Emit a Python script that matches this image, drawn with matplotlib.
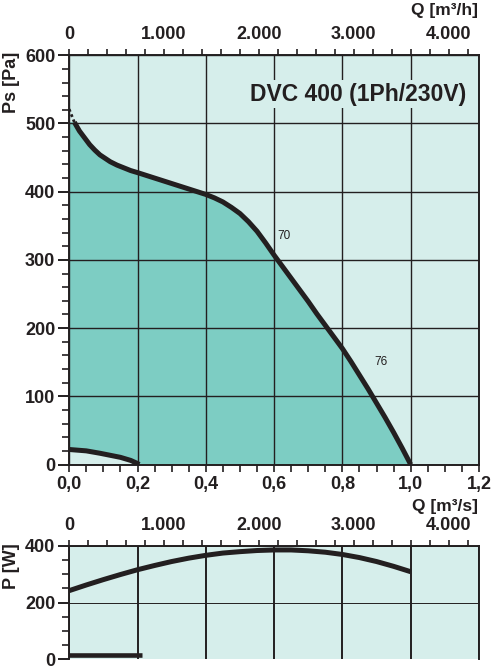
import matplotlib
matplotlib.use("Agg")
import matplotlib.pyplot as plt
from matplotlib.ticker import MultipleLocator, FixedLocator
import numpy as np

plt.rcParams['font.family'] = ['Liberation Sans', 'DejaVu Sans']

# ---------------- data ----------------
# pressure curve Ps [Pa] vs Q [m3/s]
q_ps = [0.015, 0.03, 0.045, 0.06, 0.075, 0.09, 0.105, 0.12, 0.14, 0.16, 0.18,
        0.2, 0.225, 0.25, 0.275, 0.3, 0.325, 0.35, 0.375, 0.4, 0.425, 0.45,
        0.475, 0.5, 0.525, 0.55, 0.575, 0.6, 0.625, 0.65, 0.675, 0.7, 0.725,
        0.75, 0.775, 0.8, 0.825, 0.85, 0.875, 0.9, 0.925, 0.95, 0.975, 1.0]
ps = [502, 489, 479, 469, 461, 454, 449, 444, 439, 435, 431,
      428, 424, 420, 416, 412, 408, 404, 400, 396, 391, 385,
      377, 368, 356, 342, 325, 307, 290, 273, 256, 239, 221,
      204, 187, 170, 151, 131, 111, 90, 69, 47, 24, 0]
# dotted start of the pressure curve
q_ps_dot = [0.0, 0.015]
ps_dot = [521, 502]
# lower (stall) curve
q_low = [0.0, 0.05, 0.09, 0.12, 0.15, 0.18, 0.2, 0.205]
p_low = [22, 20, 16.5, 13.5, 10.5, 6, 1.5, 0]
# power curve P [W]
q_pw = [0.0, 0.05, 0.1, 0.15, 0.2, 0.25, 0.3, 0.35, 0.4, 0.45, 0.5, 0.55,
        0.6, 0.65, 0.7, 0.75, 0.8, 0.85, 0.9, 0.95, 1.0]
pw = [242, 262, 281, 299, 316, 331, 345, 357, 367, 375, 380, 384,
      386, 386, 383, 378, 370, 359, 345, 328, 309]
q_pw_low = [0.0, 0.212]
pw_low = [13, 13]

# labels on curve
curve_labels = ["70", "76"]
curve_label_q = [0.63, 0.914]
curve_label_p = [335, 151]

x_ticks = [0.0, 0.2, 0.4, 0.6, 0.8, 1.0, 1.2]
x_ticklabels = ["0,0", "0,2", "0,4", "0,6", "0,8", "1,0", "1,2"]
h_ticks = [0, 1000, 2000, 3000, 4000]
h_ticklabels = ["0", "1.000", "2.000", "3.000", "4.000"]
ps_ticks = [0, 100, 200, 300, 400, 500, 600]
pw_ticks = [0, 200, 400]

title = "DVC 400 (1Ph/230V)"

# ---------------- style ----------------
BG = "#d6eeeb"
TEAL = "#7dcdc3"
INK = "#231f20"
W, H = 492, 670

fig = plt.figure(figsize=(W / 100, H / 100), dpi=100)
fig.patch.set_facecolor("white")

def px_axes(x0, y0, x1, y1):
    return [x0 / W, 1 - y1 / H, (x1 - x0) / W, (y1 - y0) / H]

ax = fig.add_axes(px_axes(69.2, 55.3, 479.0, 464.5))
ax2 = fig.add_axes(px_axes(69.2, 546.0, 479.0, 659.0))

to_h = (lambda q: np.asarray(q) * 3600.0, lambda h: np.asarray(h) / 3600.0)

# ---- top chart ----
ax.set_facecolor(BG)
ax.set_xlim(0, 1.2)
ax.set_ylim(0, 600)
poly_q = [q_ps_dot[0]] + list(q_ps) + list(q_low[::-1])
poly_p = [ps[0]] + list(ps) + list(p_low[::-1])
ax.fill(poly_q, poly_p, color=TEAL, lw=0, zorder=1)
ax.set_axisbelow(False)
ax.xaxis.set_major_locator(FixedLocator(x_ticks))
ax.xaxis.set_minor_locator(MultipleLocator(0.05))
ax.yaxis.set_major_locator(FixedLocator(ps_ticks))
ax.yaxis.set_minor_locator(MultipleLocator(20))
ax.set_xticklabels(x_ticklabels)
ax.grid(True, which="major", color=INK, lw=1.0, zorder=2)
ax.plot(q_ps, ps, color=INK, lw=3.6, solid_capstyle="butt",
        solid_joinstyle="round", zorder=3)
ax.plot(q_ps_dot, ps_dot, color=INK, lw=2.0, ls=(0, (1, 1)), zorder=3)
ax.plot(q_low, p_low, color=INK, lw=3.6, solid_capstyle="butt",
        solid_joinstyle="round", zorder=3)
for t, qx, py in zip(curve_labels, curve_label_q, curve_label_p):
    ax.text(qx, py, t, fontsize=8.5, color=INK, ha="center", va="center", zorder=4)
ax.text(0.847, 543, title, fontsize=16.5, fontweight="bold", color=INK,
        ha="center", va="center", zorder=5,
        bbox=dict(boxstyle="square,pad=0.12", fc=BG, ec="none"))

ax.tick_params(axis="x", which="both", direction="out", length=5, width=1.2,
               color=INK, labelsize=13, pad=3, top=False)
ax.tick_params(axis="y", which="major", direction="out", length=8, width=1.4,
               color=INK, labelsize=13, pad=2)
ax.tick_params(axis="y", which="minor", direction="out", length=5, width=1.2, color=INK)
for lab in ax.get_xticklabels() + ax.get_yticklabels():
    lab.set_fontweight("bold")
    lab.set_color(INK)
for s in ax.spines.values():
    s.set_color(INK)
    s.set_linewidth(1.4)

sec = ax.secondary_xaxis("top", functions=to_h)
sec.xaxis.set_major_locator(FixedLocator(h_ticks))
sec.xaxis.set_minor_locator(MultipleLocator(200))
sec.set_xticklabels(h_ticklabels)
sec.tick_params(axis="x", which="both", direction="out", length=4.5, width=1.2,
                color=INK, labelsize=13, pad=4)
for lab in sec.get_xticklabels():
    lab.set_fontweight("bold")
    lab.set_color(INK)
sec.spines["top"].set_visible(False)

# ---- bottom chart ----
ax2.set_facecolor(BG)
ax2.set_xlim(0, 1.2)
ax2.set_ylim(0, 400)
ax2.set_axisbelow(False)
ax2.xaxis.set_major_locator(FixedLocator(x_ticks))
ax2.yaxis.set_major_locator(FixedLocator(pw_ticks))
ax2.yaxis.set_minor_locator(MultipleLocator(50))
ax2.xaxis.grid(True, which="major", color=INK, lw=1.4, zorder=2)
ax2.yaxis.grid(True, which="major", color=INK, lw=0.7, zorder=2)
ax2.plot(q_pw, pw, color=INK, lw=3.6, solid_capstyle="butt",
         solid_joinstyle="round", zorder=3)
ax2.plot(q_pw_low, pw_low, color=INK, lw=3.3, solid_capstyle="butt", zorder=3)
ax2.tick_params(axis="x", which="both", bottom=False, top=False, labelbottom=False)
ax2.tick_params(axis="y", which="major", direction="out", length=8, width=1.4,
                color=INK, labelsize=13, pad=2)
ax2.tick_params(axis="y", which="minor", direction="out", length=5, width=1.2, color=INK)
for lab in ax2.get_yticklabels():
    lab.set_fontweight("bold")
    lab.set_color(INK)
for k, s in ax2.spines.items():
    s.set_color(INK)
    s.set_linewidth(1.4)
ax2.spines["bottom"].set_visible(False)

sec2 = ax2.secondary_xaxis("top", functions=to_h)
sec2.xaxis.set_major_locator(FixedLocator(h_ticks))
sec2.xaxis.set_minor_locator(MultipleLocator(200))
sec2.set_xticklabels(h_ticklabels)
sec2.tick_params(axis="x", which="both", direction="out", length=4.5, width=1.2,
                 color=INK, labelsize=13, pad=4)
for lab in sec2.get_xticklabels():
    lab.set_fontweight("bold")
    lab.set_color(INK)
sec2.spines["top"].set_visible(False)

# ---- axis titles ----
fig.text(478 / W, 1 - 11 / H, "Q [m³/h]", fontsize=12.5, fontweight="bold",
         color=INK, ha="right", va="center")
fig.text(478 / W, 1 - 506 / H, "Q [m³/s]", fontsize=12.5, fontweight="bold",
         color=INK, ha="right", va="center")
fig.text(12 / W, 1 - 82 / H, "Ps [Pa]", fontsize=13, fontweight="bold",
         color=INK, ha="center", va="center", rotation=90)
fig.text(12 / W, 1 - 566 / H, "P [W]", fontsize=13, fontweight="bold",
         color=INK, ha="center", va="center", rotation=90)

fig.savefig("out.png", dpi=100, facecolor="white")
